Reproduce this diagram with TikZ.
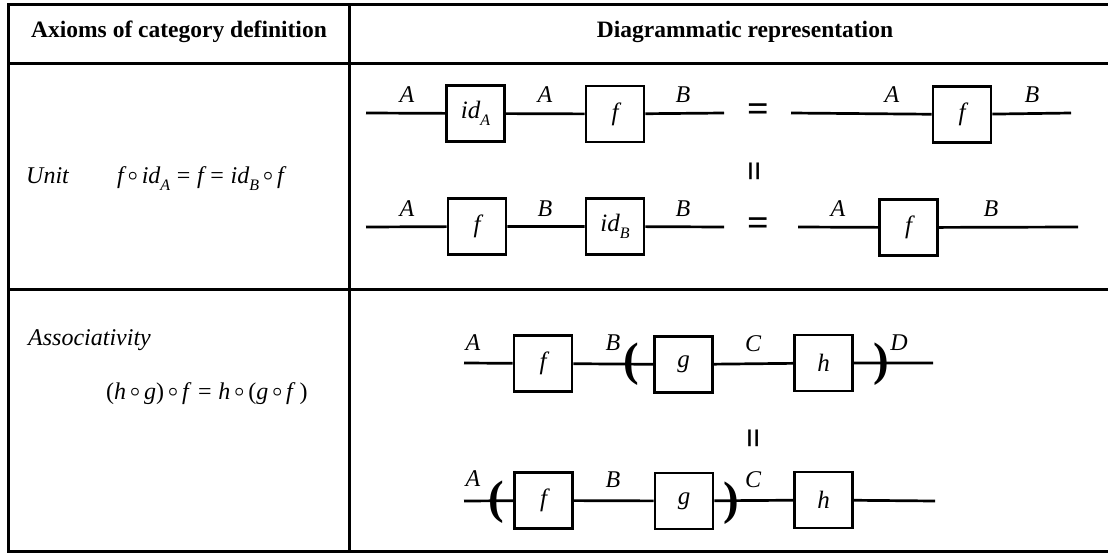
\documentclass[tikz,border=0pt]{standalone}
\usepackage{amsmath}
\usepackage{fontspec}
\setmainfont{Liberation Serif}
\newcommand\myfs[1]{\fontsize{#1}{#1}\selectfont}
\newcommand\mysub[1]{\raisebox{-0.3em}{\myfs{16}#1}}
\newcommand\oo{\,\raisebox{0.12em}{\myfs{17}$\boldsymbol{\circ}$}\,}
\begin{document}
\begin{tikzpicture}[x=1pt,y=-1pt,
  tbl/.style={line width=3pt,line cap=rect},
  wire/.style={line width=2.7pt},
  box/.style={draw,line width=2.9pt,minimum width=58pt,minimum height=56pt,inner sep=0pt,font=\myfs{25}\itshape},
  lbl/.style={inner sep=0pt,font=\myfs{24}\itshape},
  hdr/.style={inner sep=0pt,font=\myfs{23.5}\bfseries},
  txt/.style={inner sep=0pt,font=\myfs{24}\itshape},
  frm/.style={inner sep=0pt,font=\myfs{24}},
  par/.style={inner sep=0pt,font=\myfs{47}\bfseries},
  eq/.style={inner sep=0pt,font=\myfs{38}\bfseries},
  veq/.style={inner sep=0pt,font=\myfs{36}\bfseries,rotate=90}]
\useasboundingbox (0,0) rectangle (1108,554);
% table
\draw[tbl] (1108,4) -- (8,4) -- (8,551.5) -- (1108,551.5);
\draw[tbl] (8,63.5) -- (1108,63.5);
\draw[tbl] (8,289) -- (1108,289);
\draw[tbl] (349,4) -- (349,551.5);
% headers
\node[hdr] (hA) at (179,32) {Axioms of category definition};
\node[hdr] (hD) at (745,32) {Diagrammatic representation};
% left column
\node[txt,anchor=base west] (unit) at (26,183) {Unit};
\node[frm,anchor=base west] (unitf) at (117,183) {\itshape f\oo id\mysub{A}\;\upshape=\;\itshape f\;\upshape=\;\itshape id\mysub{B}\oo f};
\node[txt,anchor=base west] (assoc) at (28,345) {Associativity};
\node[frm,anchor=base west] (assocf) at (106,399) {(\textit{h}\oo\textit{g})\oo\textit{f}\;=\;\textit{h}\oo(\textit{g}\oo\textit{f}\,)};
% ---- Unit, row 1
\coordinate (u1s) at (366,113);
\node[box] (u1id) at (475.5,113.5) {id\mysub{A}};
\node[box] (u1f) at (615,114) {f};
\coordinate (u1e) at (724,113);
\draw[wire] (u1s) -- (u1id) -- (u1f) -- (u1e);
\node[lbl] (u1a) at (407,95) {A};
\node[lbl] (u1b) at (545,95) {A};
\node[lbl] (u1c) at (683,95) {B};
\node[eq] (u1eq) at (758,113) {=};
\coordinate (u1rs) at (791,113);
\node[box] (u1rf) at (962,114.5) {f};
\coordinate (u1re) at (1071,113);
\draw[wire] (u1rs) -- (u1rf) -- (u1re);
\node[lbl] (u1ra) at (892,95) {A};
\node[lbl] (u1rb) at (1032,95) {B};
\node[veq] (uveq) at (758,171) {=};
% ---- Unit, row 2
\coordinate (u2s) at (366,227);
\node[box] (u2f) at (477,226.5) {f};
\node[box] (u2id) at (615,226.5) {id\mysub{B}};
\coordinate (u2e) at (724,227);
\draw[wire] (u2s) -- (u2f) -- (u2id) -- (u2e);
\node[lbl] (u2a) at (407,208.5) {A};
\node[lbl] (u2b) at (545,208.5) {B};
\node[lbl] (u2c) at (683,208.5) {B};
\node[eq] (u2eq) at (758,227) {=};
\coordinate (u2rs) at (798,227);
\node[box] (u2rf) at (908.5,227.5) {f};
\coordinate (u2re) at (1078,227);
\draw[wire] (u2rs) -- (u2rf) -- (u2re);
\node[lbl] (u2ra) at (838,208.5) {A};
\node[lbl] (u2rb) at (991,208.5) {B};
% ---- Associativity, row 1
\coordinate (a1s) at (464,363);
\node[box] (a1f) at (543,363.5) {f};
\node[box] (a1g) at (683.5,364.5) {g};
\node[box] (a1h) at (823.5,363) {h};
\coordinate (a1e) at (933,363);
\draw[wire] (a1s) -- (a1f) -- (a1g) -- (a1h) -- (a1e);
\node[lbl] (a1a) at (473,343) {A};
\node[lbl] (a1b) at (613,343) {B};
\node[lbl] (a1c) at (753,344) {C};
\node[lbl] (a1d) at (899,343) {D};
\node[par] (a1l) at (631.5,364) {(};
\node[par] (a1r) at (881.5,364) {)};
\node[veq] (aveq) at (757,438) {=};
% ---- Associativity, row 2
\coordinate (a2s) at (464,501);
\node[box] (a2f) at (543.5,500.5) {f};
\node[box] (a2g) at (684,501) {g};
\node[box] (a2h) at (823.5,500) {h};
\coordinate (a2e) at (935,501);
\draw[wire] (a2s) -- (a2f) -- (a2g) -- (a2h) -- (a2e);
\node[lbl] (a2a) at (473,479) {A};
\node[lbl] (a2b) at (613,480) {B};
\node[lbl] (a2c) at (753,480) {C};
\node[par] (a2l) at (496.5,502) {(};
\node[par] (a2r) at (731.5,503) {)};
\end{tikzpicture}
\end{document}
